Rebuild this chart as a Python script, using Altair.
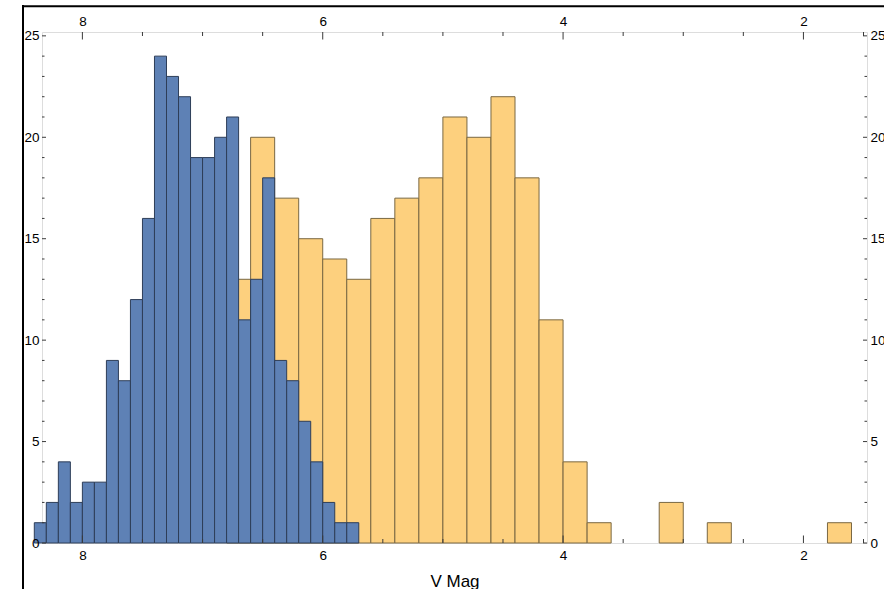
import altair as alt
import pandas as pd

# ---- data (histogram counts) ----
blue_counts = [1, 2, 4, 2, 3, 3, 9, 8, 12, 16, 24, 23, 22, 19, 19, 20, 21,
               11, 13, 18, 9, 8, 6, 4, 2, 1, 1]
blue_first_edge = 8.4
blue_bin_width = 0.1

orange_counts = [13, 20, 17, 15, 14, 13, 16, 17, 18, 21, 20, 22, 18, 11, 4,
                 1, 0, 0, 2, 0, 1, 0, 0, 0, 0, 1]
orange_first_edge = 6.8
orange_bin_width = 0.2

x_major = [8, 6, 4, 2]
x_minor = [7.5, 7, 6.5, 5.5, 5, 4.5, 3.5, 3, 2.5, 1.5]
y_major = [0, 5, 10, 15, 20, 25]
y_minor = [1, 2, 3, 4, 6, 7, 8, 9, 11, 12, 13, 14, 16, 17, 18, 19, 21, 22, 23, 24]


def bins(first, width, counts):
    lo = [round(first - width * i, 2) for i in range(len(counts))]
    hi = [round(v - width, 2) for v in lo]
    df = pd.DataFrame({"lo": lo, "hi": hi, "count": counts, "base": 0})
    return df[df["count"] > 0]


blue_df = bins(blue_first_edge, blue_bin_width, blue_counts)
orange_df = bins(orange_first_edge, orange_bin_width, orange_counts)

W, H = 825, 511
FONT = "Liberation Sans"
TICK_COLOR = "#3a3a3a"

x_scale = alt.Scale(domain=[1.471, 8.336], reverse=True, nice=False, zero=False)
y_scale = alt.Scale(domain=[0, 25.19], nice=False, zero=False)

label_style = dict(labelFont=FONT, labelFontSize=13.5, labelColor="#000000",
                   ticks=False, domain=False, grid=False, zindex=2)

orange = alt.Chart(orange_df).mark_rect(
    fill="#FDD07E", stroke="#7a6843", strokeWidth=1
).encode(
    x=alt.X("lo:Q", scale=x_scale,
            axis=alt.Axis(orient="bottom", values=x_major, labelPadding=5,
                          title="V Mag", titleFont=FONT, titleFontSize=17,
                          titleFontWeight="normal", titleColor="#000000",
                          titleY=43, titleBaseline="alphabetic", **label_style)),
    x2="hi:Q",
    y=alt.Y("count:Q", scale=y_scale,
            axis=alt.Axis(orient="left", values=y_major, labelPadding=3,
                          title=None, **label_style)),
    y2="base:Q",
)

blue = alt.Chart(blue_df).mark_rect(
    fill="#5E81B5", stroke="#2e3e58", strokeWidth=1
).encode(
    x=alt.X("lo:Q", scale=x_scale,
            axis=alt.Axis(orient="top", values=x_major, labelPadding=4,
                          title=None, **label_style)),
    x2="hi:Q",
    y=alt.Y("count:Q", scale=y_scale,
            axis=alt.Axis(orient="right", values=y_major, labelPadding=3,
                          title=None, **label_style)),
    y2="base:Q",
)

xmaj = pd.DataFrame({"v": x_major})
xmin = pd.DataFrame({"v": x_minor})
ymaj = pd.DataFrame({"v": y_major})
ymin = pd.DataFrame({"v": y_minor})


def xticks(df, y0, y1):
    return alt.Chart(df).mark_rule(color=TICK_COLOR, strokeWidth=1).encode(
        x=alt.X("v:Q", scale=x_scale, axis=None),
        y=alt.value(y0), y2=alt.value(y1))


def yticks(df, x0, x1):
    return alt.Chart(df).mark_rule(color=TICK_COLOR, strokeWidth=1).encode(
        y=alt.Y("v:Q", scale=y_scale, axis=None),
        x=alt.value(x0), x2=alt.value(x1))


tick_layers = [
    xticks(xmaj, H, H - 7.5), xticks(xmin, H, H - 4),
    xticks(xmaj, 0, 7.5), xticks(xmin, 0, 4),
    yticks(ymaj, 0, 4), yticks(ymin, 0, 2.5),
    yticks(ymaj, W, W - 4), yticks(ymin, W, W - 2.5),
]

one = pd.DataFrame({"a": [0]})
outer_left = alt.Chart(one).mark_rule(color="black", strokeWidth=2).encode(
    x=alt.value(-19), y=alt.value(-27), y2=alt.value(H + 60))
outer_top = alt.Chart(one).mark_rule(color="black", strokeWidth=2).encode(
    x=alt.value(-20), x2=alt.value(W + 60), y=alt.value(-25.7))

chart = alt.layer(
    orange, blue, *tick_layers, outer_left, outer_top
).resolve_axis(
    x="independent", y="independent"
).properties(
    width=W, height=H,
    padding={"left": 42, "top": 32, "right": 17, "bottom": 46},
    autosize=alt.AutoSizeParams(type="none"),
).configure_view(
    stroke="#a0a0a0", strokeWidth=1
).configure(background="white")

chart.save("out.html", embed_options={"renderer": "svg", "actions": False})
